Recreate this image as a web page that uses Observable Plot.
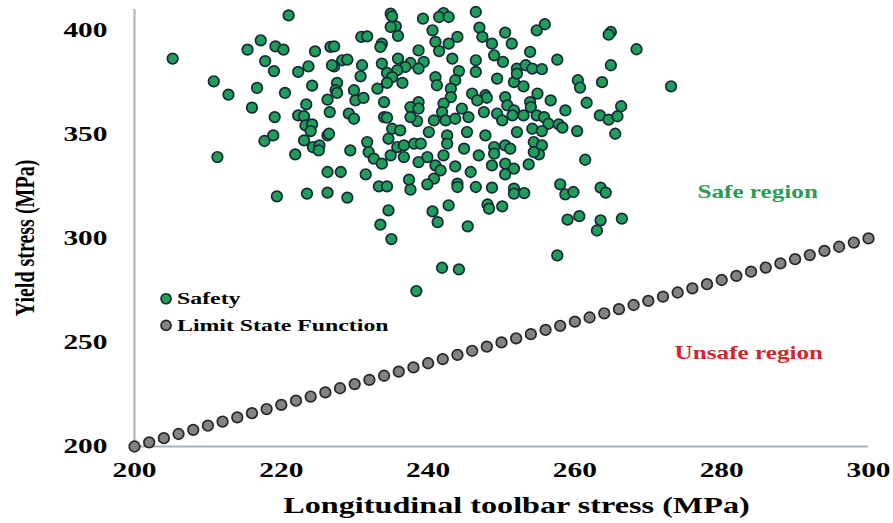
<!DOCTYPE html>
<html><head><meta charset="utf-8">
<script src="https://cdn.jsdelivr.net/npm/d3@7"></script>
<script src="https://cdn.jsdelivr.net/npm/@observablehq/plot@0.6"></script>
<style>body{margin:0;background:#fff}</style>
</head><body><div id="chart"></div>
<script>
// Safety samples: longitudinal toolbar stress (MPa)
const safetyStress = [
221.0,205.2,217.2,215.4,219.2,220.3,224.6,226.7,217.8,219.0,222.3,223.7,210.8,212.8,216.7,220.5,224.2,226.3,223.4,216.0,
219.1,222.3,223.1,223.3,224.2,224.0,226.6,217.7,218.9,223.1,226.3,224.3,225.2,225.1,211.3,221.9,226.3,219.4,223.5,226.3,
234.9,235.1,239.3,242.1,241.5,242.8,246.5,235.6,234.9,240.6,247.0,250.5,230.9,231.7,235.9,244.0,247.4,241.0,242.8,227.2,
233.7,233.5,248.7,251.4,238.7,241.5,235.9,243.3,246.5,249.0,250.2,228.3,229.0,227.2,226.9,231.0,233.7,237.6,239.4,236.9,
238.7,235.8,234.4,244.2,246.5,252.1,230.8,235.1,236.5,241.0,243.7,249.4,251.7,227.6,234.4,241.2,227.4,227.6,229.9,233.1,
243.1,230.1,231.2,243.1,246.0,247.8,248.0,250.5,234.0,238.7,246.7,250.8,229.2,229.9,237.6,238.7,242.1,241.9,244.6,245.5,
247.6,249.4,250.1,251.7,251.5,234.0,234.4,238.5,240.8,242.4,243.7,237.6,226.5,235.1,236.2,240.1,242.6,245.3,247.8,252.1,
231.7,234.6,235.8,236.7,238.1,239.0,242.6,244.9,249.0,250.5,251.2,229.4,231.9,234.9,236.7,239.9,242.1,246.9,249.0,232.6,
233.7,238.7,241.0,241.7,243.7,248.7,250.5,251.7,250.5,245.8,228.1,231.5,237.4,240.8,233.3,234.4,237.6,239.9,244.0,244.0,
246.5,248.7,251.7,251.7,229.0,242.8,240.6,234.6,248.1,248.3,250.1,233.5,241.3,245.4,235.0,241.9,244.2,238.4,255.9,254.8,
264.9,264.6,268.4,253.9,257.6,253.3,254.2,255.5,252.1,264.9,260.4,260.7,263.7,273.1,253.0,254.9,256.7,253.9,254.0,261.6,
258.7,266.3,253.0,254.8,255.8,263.4,264.6,265.8,256.4,257.8,258.3,260.3,265.5,254.2,255.5,254.4,255.5,255.1,261.4,254.4,
253.7,258.0,258.7,259.8,263.5,264.2,253.1,259.0,260.6,263.5,263.0,266.4,257.6
];
// Safety samples: yield stress (MPa)
const safetyYield = [
407.2,386.4,395.2,390.7,392.3,390.7,389.9,392.0,385.2,380.4,380.0,382.7,375.5,369.1,372.3,369.9,373.4,366.7,364.4,362.8,
358.3,359.1,358.7,354.3,354.8,351.6,360.7,346.8,349.5,347.1,349.5,343.9,344.7,342.3,339.1,340.4,331.9,320.2,321.5,322.0,
408.0,406.7,405.6,408.3,406.4,406.4,408.8,401.9,401.6,400.0,401.3,398.9,396.8,397.1,397.3,396.8,396.8,394.4,393.6,392.3,
393.6,392.0,393.6,393.6,390.4,390.0,386.4,386.4,385.6,388.0,384.8,385.6,385.9,382.7,383.2,383.2,384.0,384.3,384.8,382.4,
381.6,380.8,379.5,380.4,380.0,381.6,377.9,377.5,374.7,377.5,376.0,376.8,375.1,374.7,374.7,373.6,371.2,369.9,371.2,372.0,
372.0,366.3,367.5,367.9,369.6,368.8,367.6,367.9,365.5,365.5,366.3,363.9,360.0,357.5,363.1,362.4,364.8,360.7,362.4,358.3,
360.7,360.0,356.7,361.5,359.1,358.3,358.0,356.4,356.7,356.7,357.5,358.3,350.3,352.7,351.9,351.1,349.5,351.1,349.5,351.1,
346.3,347.9,343.9,344.7,345.5,345.5,345.5,343.1,343.9,344.7,343.1,342.3,341.5,339.9,339.1,339.1,339.9,339.9,340.7,338.3,
335.9,336.7,335.1,332.7,334.6,335.1,335.9,333.5,330.8,331.9,331.9,330.8,328.2,328.7,325.0,325.0,323.4,326.0,326.3,324.7,
324.7,324.4,323.9,321.5,319.6,315.9,313.0,313.5,316.3,314.3,315.4,306.6,307.8,305.8,299.7,285.9,285.1,274.7,402.9,400.0,
399.2,397.9,390.9,389.6,385.9,383.2,381.6,381.3,379.2,383.2,376.0,372.5,375.1,373.1,373.1,369.6,366.3,365.5,363.1,365.2,
361.5,363.5,359.1,359.1,358.3,359.1,357.1,358.7,355.1,354.8,353.2,351.6,350.3,352.7,351.6,346.3,344.7,340.4,337.8,341.5,
335.6,326.0,321.2,322.3,324.4,322.0,321.8,309.0,310.7,308.7,303.8,309.5,291.8
];
// Limit state function points
const lsfStress = [200,202,204,206,208,210,212,214,216,218,220,222,224,226,228,230,232,234,236,238,240,242,244,246,248,250,
252,254,256,258,260,262,264,266,268,270,272,274,276,278,280,282,284,286,288,290,292,294,296,298,300];
const lsfYield = [200,202,204,206,208,210,212,214,216,218,220,222,224,226,228,230,232,234,236,238,240,242,244,246,248,250,
252,254,256,258,260,262,264,266,268,270,272,274,276,278,280,282,284,286,288,290,292,294,296,298,300];
const xTicks = [200,220,240,260,280,300];
const yTicks = [200,250,300,350,400];
const legendLabels = ["Safety","Limit State Function"];
const regionLabels = ["Safe region","Unsafe region"];

const safety = safetyStress.map((x,i)=>({x, y: safetyYield[i]}));
const lsf = lsfStress.map((x,i)=>({x, y: lsfYield[i]}));

const green="#1f9e5a", greenStroke="#14283a", gray="#838383", grayStroke="#262626";
const axisColor="#a9b1c0";
const font="'Liberation Serif','Times New Roman',serif";

const chart = Plot.plot({
  width:893, height:523,
  marginLeft:134, marginRight:25, marginTop:9, marginBottom:77,
  x:{domain:[200,300]},
  y:{domain:[200,410]},
  style:{fontFamily:font, fontWeight:"bold", color:"#000", background:"#fff", overflow:"visible"},
  marks:[
    Plot.ruleY([200],{stroke:axisColor, strokeWidth:2}),
    Plot.ruleX([200],{stroke:axisColor, strokeWidth:2}),
    Plot.axisX({ticks:xTicks, tickSize:0, tickPadding:16, fontSize:21, label:null, tickFormat:d=>String(d)}),
    Plot.axisY({ticks:yTicks, tickSize:0, tickPadding:27, fontSize:21, label:null, tickFormat:d=>String(d)}),
    Plot.text(["Longitudinal toolbar stress (MPa)"], {frameAnchor:"bottom", textAnchor:"middle", lineAnchor:"middle", dx:15, dy:59, fontSize:23, fill:"#000"}),
    Plot.text(["Yield stress (MPa)"], {frameAnchor:"left", textAnchor:"middle", lineAnchor:"middle", rotate:-90, dx:-109, dy:10, fontSize:20, fill:"#000"}),
    Plot.dot(lsf, {x:"x", y:"y", r:5.3, fill:gray, stroke:grayStroke, strokeWidth:1.7}),
    Plot.dot(safety, {x:"x", y:"y", r:5.3, fill:green, stroke:greenStroke, strokeWidth:1.7}),
    // legend
    Plot.dot(legendLabels, {x:()=>204.3, y:(d,i)=>[271.0,258.2][i], r:5, fill:(d,i)=>i?gray:green, stroke:(d,i)=>i?grayStroke:greenStroke, strokeWidth:1.7}),
    Plot.text(legendLabels, {x:()=>204.3, y:(d,i)=>[271.0,258.2][i], text:d=>d, dx:11, textAnchor:"start", lineAnchor:"middle", fontSize:17, fill:"#000"}),
    // region labels
    Plot.text(regionLabels, {x:(d,i)=>[284.9,283.7][i], y:(d,i)=>[322.1,244.7][i], text:d=>d, textAnchor:"middle", lineAnchor:"middle", fontSize:18, fill:(d,i)=>i?"#d8232a":"#2e9a55"})
  ]
});

// the reference lettering is horizontally stretched
const SX = 1.4;
chart.querySelectorAll("text").forEach(t => {
  const tr = t.getAttribute("transform");
  if (tr == null) {
    const x = +t.getAttribute("x") || 0, y = +t.getAttribute("y") || 0;
    t.removeAttribute("x"); t.removeAttribute("y");
    t.setAttribute("transform", `translate(${x},${y}) scale(${SX},1)`);
  } else if (tr.includes("rotate(-90")) {
    t.setAttribute("transform", tr + ` scale(1,${SX})`);
  } else {
    t.setAttribute("transform", tr + ` scale(${SX},1)`);
  }
});
document.getElementById("chart").appendChild(chart);
</script>
</body></html>
